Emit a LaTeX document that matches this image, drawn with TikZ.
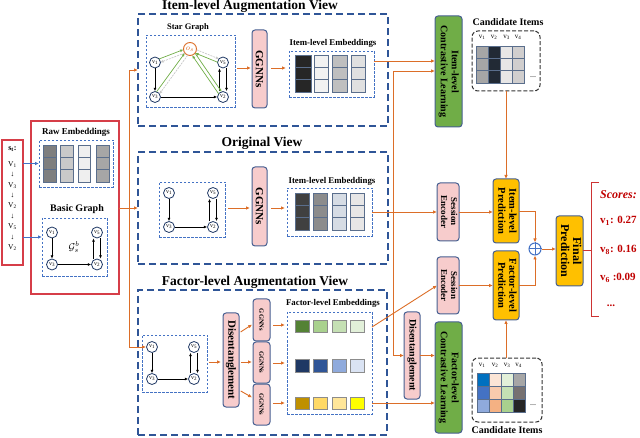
\documentclass[tikz,border=0pt]{standalone}
\usepackage{fontspec}
\setmainfont{Liberation Serif}
\usetikzlibrary{arrows.meta,calc}
\definecolor{dblue}{RGB}{47,85,151}
\definecolor{lblue}{RGB}{68,114,196}
\definecolor{oran}{RGB}{220,110,40}
\definecolor{pinkf}{RGB}{247,204,204}
\definecolor{bord}{RGB}{70,95,145}
\definecolor{grnf}{RGB}{112,173,71}
\definecolor{yelf}{RGB}{255,192,0}
\definecolor{redb}{RGB}{214,62,72}
\definecolor{scred}{RGB}{192,0,0}
\definecolor{nodeb}{RGB}{31,56,100}
\definecolor{cellb}{RGB}{90,110,140}
% cell colours
\definecolor{cr1}{HTML}{7F7F7F}\definecolor{cr2}{HTML}{C9C9C9}\definecolor{cr3}{HTML}{EFEFEF}\definecolor{cr4}{HTML}{A6A6A6}
\definecolor{ce1}{HTML}{262626}\definecolor{ce2}{HTML}{F2F2F2}\definecolor{ce3}{HTML}{BFBFBF}\definecolor{ce4}{HTML}{E0E0E0}
\definecolor{co1}{HTML}{404040}\definecolor{co2}{HTML}{8C8C8C}\definecolor{co3}{HTML}{D6DCE4}\definecolor{co4}{HTML}{E7E6E6}
\definecolor{cg1}{HTML}{548235}\definecolor{cg2}{HTML}{A9D18E}\definecolor{cg3}{HTML}{C5E0B4}\definecolor{cg4}{HTML}{E2F0D9}
\definecolor{cb1}{HTML}{1F3864}\definecolor{cb2}{HTML}{2F5597}\definecolor{cb3}{HTML}{8FAADC}\definecolor{cb4}{HTML}{DAE3F3}
\definecolor{cy1}{HTML}{BF9000}\definecolor{cy2}{HTML}{FFD966}\definecolor{cy3}{HTML}{FFE699}\definecolor{cy4}{HTML}{FFFF00}
\definecolor{ca1}{HTML}{A6A6A6}\definecolor{ca2}{HTML}{222A35}\definecolor{ca3}{HTML}{E7E6E6}\definecolor{ca4}{HTML}{D0CECE}
\definecolor{cd11}{HTML}{0070C0}\definecolor{cd12}{HTML}{FBE5D6}\definecolor{cd13}{HTML}{E2F0D9}\definecolor{cd14}{HTML}{A6A6A6}
\definecolor{cd21}{HTML}{4472C4}\definecolor{cd22}{HTML}{F8CBAD}\definecolor{cd23}{HTML}{C5E0B4}\definecolor{cd24}{HTML}{767171}
\definecolor{cd31}{HTML}{8FAADC}\definecolor{cd32}{HTML}{F4B183}\definecolor{cd33}{HTML}{A9D18E}\definecolor{cd34}{HTML}{262626}

\newcommand{\fs}[2]{\fontsize{#1}{#2}\selectfont}
\newcommand{\vv}[1]{v\textsubscript{#1}}
\newcommand{\rbox}[6]{\node[#2, minimum width={(#5)-(#3)}, minimum height={(#6)-(#4)}] (#1) at ({((#3)+(#5))/2},{((#4)+(#6))/2})}
\newcommand{\ecol}[5]{\foreach \k in {0,1,2}{\filldraw[fill=#5, draw=cellb, line width=0.5pt] (#1,{#2+\k*((#4)-(#2))/3}) rectangle (#3,{#2+(\k+1)*((#4)-(#2))/3});}}
\newcommand{\sq}[5]{\filldraw[fill=#5, draw=cellb, line width=0.5pt] (#1,#2) rectangle (#3,#4);}
\newcommand{\fsq}[5]{\filldraw[fill=#5, draw=black!45, line width=0.8pt] (#1,#2) rectangle (#3,#4);}
\newcommand{\qgraph}[5]{%
 \node[vn] (#1a) at (#2,#4) {\vv{1}};
 \node[vn] (#1b) at (#2,#5) {\vv{3}};
 \node[vn] (#1c) at (#3,#4) {\vv{5}};
 \node[vn] (#1d) at (#3,#5) {\vv{2}};
 \draw[karr] (#1a) -- (#1b);
 \draw[karr] (#1b) -- (#1d);
 \draw[karr] ([xshift=-3.5pt]#1d.north) -- ([xshift=-3.5pt]#1c.south);
 \draw[karr] ([xshift=3.5pt]#1c.south) -- ([xshift=3.5pt]#1d.north);
}
\newcommand{\pairarr}[4]{%
 \draw[#3, shorten <=5pt, shorten >=6.5pt] ($(#1)!1.8pt!90:(#2)$) -- ($(#2)!1.8pt!-90:(#1)$);
 \draw[#4, shorten <=6.5pt, shorten >=5pt] ($(#2)!1.8pt!90:(#1)$) -- ($(#1)!1.8pt!-90:(#2)$);
}
\newcommand{\rtxt}[1]{\rotatebox{-90}{\begin{tabular}{@{}c@{}}#1\end{tabular}}}

\tikzset{
 bigdash/.style={draw=dblue, line width=1.8pt, dash pattern=on 7pt off 4pt, inner sep=0pt, outer sep=0pt},
 thindash/.style={draw=lblue, line width=0.9pt, dash pattern=on 2.5pt off 1.5pt, inner sep=0pt, outer sep=0pt},
 candbox/.style={draw=black!80, line width=1pt, dash pattern=on 4pt off 2pt, rounded corners=6pt, inner sep=0pt, outer sep=0pt},
 pinkbox/.style={draw=bord, fill=pinkf, line width=1pt, rounded corners=3pt, inner sep=0pt, outer sep=0pt},
 grnbox/.style={draw=bord, fill=grnf, line width=1pt, rounded corners=3pt, inner sep=0pt, outer sep=0pt},
 yelbox/.style={draw=bord, fill=yelf, line width=1pt, rounded corners=3pt, inner sep=0pt, outer sep=0pt},
 redbox/.style={draw=redb, line width=1.2pt, inner sep=0pt, outer sep=0pt},
 vn/.style={circle, draw=nodeb, fill=white, line width=0.8pt, minimum size=11pt, inner sep=0pt, font=\fs{6}{6}},
 oarr/.style={draw=oran, line width=0.9pt, -{Latex[length=4pt,width=3.5pt]}},
 barr/.style={draw=lblue, line width=0.9pt, -{Latex[length=4pt,width=3.5pt]}},
 karr/.style={draw=black, line width=0.7pt, -{Latex[length=3.2pt,width=3pt]}},
 garr/.style={draw=grnf, line width=0.7pt, -{Latex[length=3.2pt,width=3pt]}},
 gyarr/.style={draw=black!22, line width=0.7pt, dash pattern=on 2pt off 1pt, -{Latex[length=3.2pt,width=3pt]}},
 lab/.style={inner sep=0pt},
}

\begin{document}
\begin{tikzpicture}[x=1pt,y=-1pt]
\useasboundingbox (0,0) rectangle (640,438);

% ---------------- left: session and input
\rbox{sbox}{redbox}{2}{140}{23}{265}{};
\node[lab, font=\bfseries\fs{8}{8}] (st) at (12.5,149) {s\textsubscript{t}:};
\node[lab, align=center, font=\fs{7.5}{10.4}] (seq) at (12.5,206) {V\textsubscript{1}\\↓\\V\textsubscript{3}\\↓\\V\textsubscript{2}\\↓\\V\textsubscript{5}\\↓\\V\textsubscript{2}};

\rbox{redb}{redbox}{31}{121}{119}{294}{};
\node[lab, font=\bfseries\fs{9}{9}] (rawl) at (76,132) {Raw Embeddings};
\rbox{raw}{thindash}{39}{140}{113}{187}{};
\ecol{43}{145}{56}{182}{cr1}
\ecol{60}{145}{73}{182}{cr2}
\ecol{78}{145}{90}{182}{cr3}
\ecol{96}{145}{109}{182}{cr4}
\node[lab, font=\bfseries\fs{10}{10}] (bgl) at (77,209) {Basic Graph};
\rbox{bg}{thindash}{42}{218}{107}{276}{};
\qgraph{b}{52}{97}{232.5}{264.5}
\node[lab, font=\fs{10}{10}] (gsb) at (74,247) {$\mathcal{G}^{b}_{s}$};
\draw[barr] (sbox.east |- raw.west) -- (raw.west);
\draw[barr] (sbox.east |- 0,237) -- (bg.west |- 0,237);

% ---------------- item-level augmentation view
\node[lab, font=\bfseries\fs{13.5}{13.5}] (tia) at (250,6) {Item-level Augmentation View};
\rbox{ia}{bigdash}{138}{14}{388}{126}{};
\node[lab, font=\bfseries\fs{8.5}{8.5}] (sgl) at (188,27) {Star Graph};
\rbox{star}{thindash}{146}{35}{235}{107}{};
\qgraph{s}{155}{223}{62.5}{97}
\node[circle, draw=oran, line width=0.9pt, minimum size=13pt, inner sep=0pt, text=oran, fill=white, font=\fs{8}{8}] (os) at (190,49) {$o_s$};
\pairarr{sa}{os}{garr}{gyarr}
\pairarr{sb}{os}{garr}{gyarr}
\pairarr{sc}{os}{garr}{gyarr}
\pairarr{sd}{os}{garr}{garr}
\rbox{gg1}{pinkbox, font=\bfseries\fs{11}{11}}{252}{30}{267}{108}{\rotatebox{-90}{GGNNs}};
\node[lab, font=\bfseries\fs{8.8}{8.8}] (e1l) at (333,43) {Item-level Embeddings};
\rbox{emb1}{thindash}{289}{51}{374}{97}{};
\ecol{295}{55}{311}{92}{ce1}
\ecol{314}{55}{328}{92}{ce2}
\ecol{332}{55}{347}{92}{ce3}
\ecol{351}{55}{365}{92}{ce4}
\draw[oarr, shorten <=2pt, shorten >=1pt] (star.east |- 0,68) -- (gg1.west |- 0,68);
\draw[oarr, shorten <=4pt, shorten >=3pt] (gg1.east |- 0,68) -- (emb1.west |- 0,68);

% ---------------- original view
\node[lab, font=\bfseries\fs{13.5}{13.5}] (tov) at (262,143) {Original View};
\rbox{ov}{bigdash}{138}{152}{388}{264}{};
\rbox{og}{thindash}{159}{182}{225}{237}{};
\qgraph{o}{169}{213}{193}{227}
\rbox{gg2}{pinkbox, font=\bfseries\fs{11}{11}}{252}{167}{267}{246}{\rotatebox{-90}{GGNNs}};
\node[lab, font=\bfseries\fs{8.8}{8.8}] (e2l) at (332,181) {Item-level Embeddings};
\rbox{emb2}{thindash}{287}{188}{372}{236}{};
\ecol{295}{193}{309}{230}{co1}
\ecol{313}{193}{327}{230}{co2}
\ecol{332}{193}{346}{230}{co3}
\ecol{350}{193}{364}{230}{co4}
\draw[oarr, shorten <=3pt, shorten >=2pt] (og.east |- 0,208) -- (gg2.west |- 0,208);
\draw[oarr, shorten <=4pt, shorten >=2pt] (gg2.east |- 0,208) -- (emb2.west |- 0,208);

% ---------------- factor-level augmentation view
\node[lab, font=\bfseries\fs{13.5}{13.5}] (tfa) at (255,282) {Factor-level Augmentation View};
\rbox{fa}{bigdash}{138}{290}{387}{435}{};
\rbox{fg}{thindash}{142}{335}{207}{392}{};
\qgraph{f}{152}{194}{347}{379}
\rbox{dis1}{pinkbox, font=\bfseries\fs{11}{11}}{223}{313}{239}{407}{\rotatebox{-90}{Disentanglement}};
\rbox{gga}{pinkbox, font=\bfseries\fs{6.5}{6.5}}{253}{299}{270}{341}{\rotatebox{-90}{GGNNs}};
\rbox{ggb}{pinkbox, font=\bfseries\fs{6.5}{6.5}}{253}{342}{270}{383}{\rotatebox{-90}{GGNNs}};
\rbox{ggc}{pinkbox, font=\bfseries\fs{6.5}{6.5}}{253}{384}{270}{425}{\rotatebox{-90}{GGNNs}};
\node[lab, font=\bfseries\fs{8.8}{8.8}] (e3l) at (333,303) {Factor-level Embeddings};
\rbox{femb}{thindash}{287}{312}{372}{414}{};
\fsq{295}{320}{309}{332}{cg1}\fsq{313}{320}{327}{332}{cg2}\fsq{332}{320}{346}{332}{cg3}\fsq{350}{320}{364}{332}{cg4}
\fsq{295}{359}{309}{372}{cb1}\fsq{313}{359}{327}{372}{cb2}\fsq{332}{359}{346}{372}{cb3}\fsq{350}{359}{364}{372}{cb4}
\fsq{295}{397}{309}{409}{cy1}\fsq{313}{397}{327}{409}{cy2}\fsq{332}{397}{346}{409}{cy3}\fsq{350}{397}{364}{409}{cy4}
\draw[oarr, shorten <=2pt, shorten >=2pt] (fg.east |- 0,362) -- (dis1.west |- 0,362);
\draw[oarr, shorten <=2pt, shorten >=1pt] (dis1.east |- 0,333) -- (gga.west |- 0,324);
\draw[oarr, shorten <=2pt, shorten >=1pt] (dis1.east |- 0,362) -- (ggb.west |- 0,362);
\draw[oarr, shorten <=2pt, shorten >=1pt] (dis1.east |- 0,390) -- (ggc.west |- 0,398);
\draw[oarr, shorten <=3pt, shorten >=2pt] (gga.east |- 0,325) -- (femb.west |- 0,325);
\draw[oarr, shorten <=3pt, shorten >=2pt] (ggb.east |- 0,363) -- (femb.west |- 0,363);
\draw[oarr, shorten <=3pt, shorten >=2pt] (ggc.east |- 0,403) -- (femb.west |- 0,403);

% ---------------- input fan-out
\coordinate (jn) at (129,208);
\draw[oarr] (redb.east |- ov.west) -- (ov.west);
\draw[oarr] (jn) |- (ia.west);
\draw[oarr] (jn) |- (fa.west);

% ---------------- right part
\rbox{icl}{grnbox, font=\bfseries\fs{10}{11}}{435}{16}{462}{127}{\rtxt{Item-level\\Contrastive Learning}};
\rbox{fcl}{grnbox, font=\bfseries\fs{10}{11}}{435}{322}{462}{433}{\rtxt{Factor-level\\Contrastive Learning}};
\rbox{se1}{pinkbox, font=\bfseries\fs{9}{10}}{437}{183}{459}{241}{\rtxt{Session\\Encoder}};
\rbox{se2}{pinkbox, font=\bfseries\fs{9}{10}}{437}{257}{459}{314}{\rtxt{Session\\Encoder}};
\rbox{dis2}{pinkbox, font=\bfseries\fs{10}{10}}{404}{312}{420}{399}{\rotatebox{-90}{Disentanglement}};
\rbox{ip}{yelbox, font=\bfseries\fs{10.5}{11}}{493}{179}{519}{243}{\rtxt{Item-level\\Prediction}};
\rbox{fp}{yelbox, font=\bfseries\fs{10.5}{11}}{493}{251}{519}{320}{\rtxt{Factor-level\\Prediction}};
\rbox{final}{yelbox, font=\bfseries\fs{12}{12}}{556}{216}{583}{286}{\rtxt{Final\\Prediction}};

% candidate items (top)
\node[lab, font=\bfseries\fs{10}{10}] (c1l) at (508,22) {Candidate Items};
\rbox{cand1}{candbox}{472}{31}{540}{91}{};
\node[lab, font=\fs{7}{7}] (h11) at (482,37.5) {\vv{1}};
\node[lab, font=\fs{7}{7}] (h12) at (494,37.5) {\vv{2}};
\node[lab, font=\fs{7}{7}] (h13) at (506.5,37.5) {\vv{3}};
\node[lab, font=\fs{7}{7}] (h14) at (518,37.5) {\vv{4}};
\ecol{476}{46}{488}{83}{ca1}
\ecol{488}{46}{500}{83}{ca2}
\ecol{500}{46}{512}{83}{ca3}
\ecol{512}{46}{524}{83}{ca4}
\node[lab, font=\fs{8}{8}] (dt1) at (533,77) {...};

% candidate items (bottom)
\rbox{cand2}{candbox}{472}{358}{542}{422}{};
\node[lab, font=\bfseries\fs{10}{10}] (c2l) at (507,430) {Candidate Items};
\node[lab, font=\fs{7}{7}] (h21) at (482,365) {\vv{1}};
\node[lab, font=\fs{7}{7}] (h22) at (495,365) {\vv{2}};
\node[lab, font=\fs{7}{7}] (h23) at (507,365) {\vv{3}};
\node[lab, font=\fs{7}{7}] (h24) at (518.5,365) {\vv{4}};
\sq{477}{373}{489}{386}{cd11}\sq{489}{373}{501}{386}{cd12}\sq{501}{373}{513}{386}{cd13}\sq{513}{373}{525}{386}{cd14}
\sq{477}{386}{489}{399}{cd21}\sq{489}{386}{501}{399}{cd22}\sq{501}{386}{513}{399}{cd23}\sq{513}{386}{525}{399}{cd24}
\sq{477}{399}{489}{412}{cd31}\sq{489}{399}{501}{412}{cd32}\sq{501}{399}{513}{412}{cd33}\sq{513}{399}{525}{412}{cd34}
\node[lab, font=\fs{8}{8}] (dt2) at (533,405) {...};

% plus
\node[circle, draw=lblue, line width=1pt, minimum size=12pt, inner sep=0pt, fill=white] (plus) at (535,249) {};
\draw[lblue, line width=1pt] (plus.north) -- (plus.south) (plus.west) -- (plus.east);

% connectors right
\draw[oarr] (emb1.east |- 0,61) -- (icl.west |- 0,61);
\coordinate (br) at (393,212);
\coordinate (icl2) at (icl.west |- 0,71);
\draw[oarr] (emb2.east |- se1.west) -- (se1.west);
\draw[oarr] (br) |- (icl2);
\draw[oarr] (br) |- (dis2.west);
\draw[oarr] (dis2.east) -- (dis2.east -| fcl.west);
\draw[oarr] (femb.east |- 0,327) -- (se2.west);
\draw[oarr] (femb.east |- 0,403) -- (fcl.west |- 0,403);
\draw[oarr] (se1.east) -- (se1.east -| ip.west);
\draw[oarr] (se2.east) -- (se2.east -| fp.west);
\draw[oarr] (ip.north |- cand1.south) -- (ip.north);
\draw[oarr] (fp.south |- cand2.north) -- (fp.south);
\draw[oarr] (ip.east) -| (plus.north);
\draw[oarr] (fp.east) -| (plus.south);
\draw[oarr] (plus.east) -- (plus.east -| final.west);

% scores
\coordinate (brk) at (591,251);
\draw[scred!80, line width=1pt] (final.east |- brk) -- (brk);
\draw[scred!80, line width=1pt] (599,183) -- (591,183) -- (591,317) -- (599,317);
\node[lab, anchor=west, text=scred, font=\bfseries\itshape\fs{12}{12}] (sc0) at (600,195) {Scores:};
\node[lab, anchor=west, text=scred, font=\bfseries\fs{11}{11}] (sc1) at (600,221) {\vv{1}: 0.27};
\node[lab, anchor=west, text=scred, font=\bfseries\fs{11}{11}] (sc2) at (600,250) {\vv{8}: 0.16};
\node[lab, anchor=west, text=scred, font=\bfseries\fs{11}{11}] (sc3) at (600,278) {\vv{6} :0.09};
\node[lab, text=scred, font=\bfseries\fs{11}{11}] (sc4) at (611,306) {...};
\end{tikzpicture}
\end{document}
